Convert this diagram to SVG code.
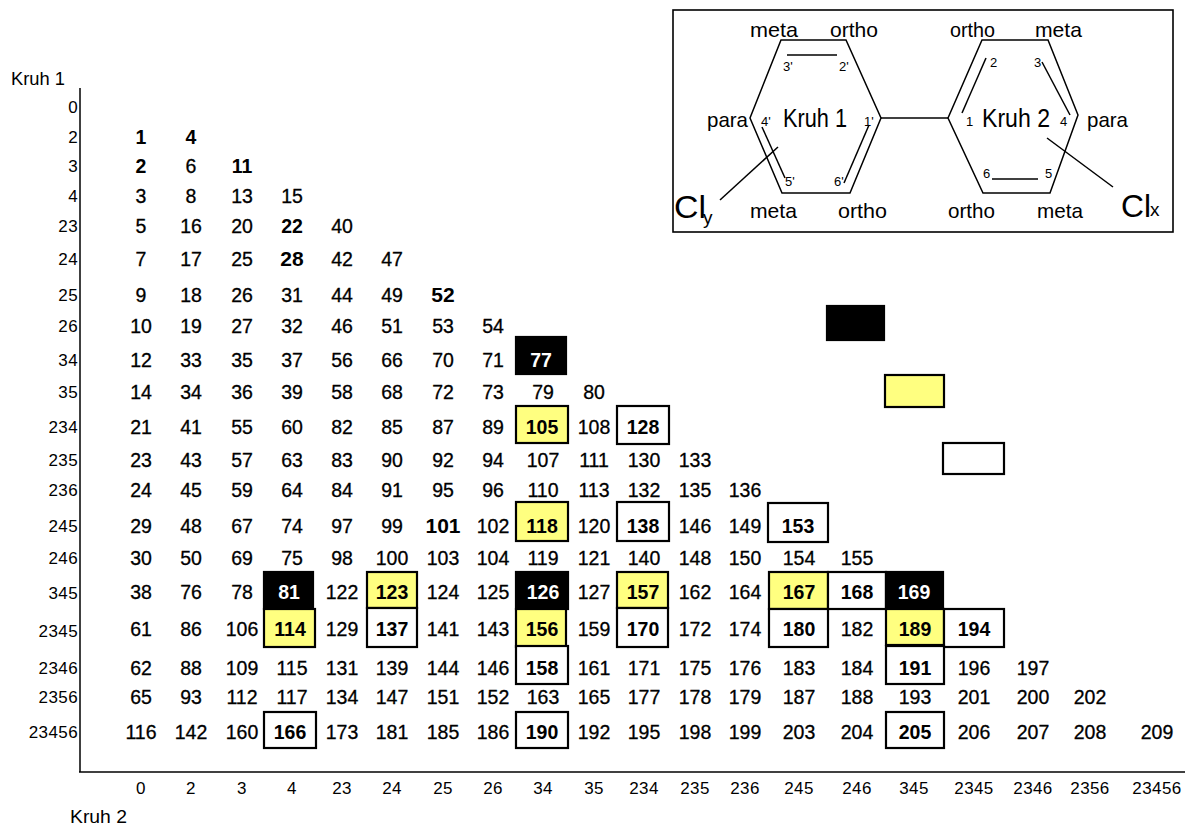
<svg xmlns="http://www.w3.org/2000/svg" width="1185" height="825" viewBox="0 0 1185 825">
<style>
text{font-family:"Liberation Sans",Arial,sans-serif;fill:#000}
.d{font-size:19.5px;text-anchor:middle;stroke:#000;stroke-width:0.3}
.b{font-weight:bold;stroke-width:0}
.w{font-weight:bold;fill:#fff;stroke:none}
.ax{font-size:17px;letter-spacing:0.4px;fill:#222}
.rl{text-anchor:end}
.cl{text-anchor:middle}
.bx{stroke:#000;stroke-width:2.2}
.blk{fill:#000}
.yel{fill:#ffff80}
.wht{fill:#fff}
.ln{stroke:#000;stroke-width:1.5;fill:none}
.lbl{font-size:21px}
.sm{font-size:13px}
</style>
<rect width="1185" height="825" fill="#fff"/>

<g id="axes">
<line class="ln" x1="80" y1="88" x2="80" y2="772" stroke-width="2"/>
<line class="ln" x1="79" y1="772" x2="1185" y2="772" stroke-width="2"/>
<text x="11" y="85" font-size="18" textLength="54" lengthAdjust="spacingAndGlyphs">Kruh 1</text>
<text x="70" y="823" font-size="18" textLength="57" lengthAdjust="spacingAndGlyphs">Kruh 2</text>
</g>

<g id="row-labels" class="ax rl">
<text x="78" y="113">0</text>
<text x="78" y="143">2</text>
<text x="78" y="172">3</text>
<text x="78" y="202">4</text>
<text x="78" y="232">23</text>
<text x="78" y="265">24</text>
<text x="78" y="301">25</text>
<text x="78" y="332">26</text>
<text x="78" y="366">34</text>
<text x="78" y="398">35</text>
<text x="78" y="433">234</text>
<text x="78" y="466">235</text>
<text x="78" y="496">236</text>
<text x="78" y="532">245</text>
<text x="78" y="564">246</text>
<text x="78" y="599">345</text>
<text x="78" y="637">2345</text>
<text x="78" y="674">2346</text>
<text x="78" y="703">2356</text>
<text x="78" y="738">23456</text>
</g>

<g id="col-labels" class="ax cl">
<text x="141" y="794">0</text>
<text x="191" y="794">2</text>
<text x="242" y="794">3</text>
<text x="292" y="794">4</text>
<text x="342" y="794">23</text>
<text x="392" y="794">24</text>
<text x="443" y="794">25</text>
<text x="493" y="794">26</text>
<text x="543" y="794">34</text>
<text x="594" y="794">35</text>
<text x="644" y="794">234</text>
<text x="695" y="794">235</text>
<text x="745" y="794">236</text>
<text x="799" y="794">245</text>
<text x="857" y="794">246</text>
<text x="914" y="794">345</text>
<text x="974" y="794">2345</text>
<text x="1033" y="794">2346</text>
<text x="1090" y="794">2356</text>
<text x="1157" y="794">23456</text>
</g>

<g id="cell-boxes">
<rect class="bx blk" x="516" y="337" width="50" height="37"/>
<rect class="bx yel" x="516" y="406" width="52" height="37"/>
<rect class="bx wht" x="617" y="406" width="52" height="38"/>
<rect class="bx yel" x="516" y="502" width="52" height="39"/>
<rect class="bx wht" x="617" y="502" width="52" height="39"/>
<rect class="bx wht" x="768" y="503" width="60" height="39"/>
<rect class="bx blk" x="264" y="572" width="49" height="37"/>
<rect class="bx yel" x="367" y="572" width="50" height="36"/>
<rect class="bx blk" x="516" y="572" width="52" height="37"/>
<rect class="bx yel" x="617" y="572" width="51" height="36"/>
<rect class="bx yel" x="769" y="572" width="59" height="37"/>
<rect class="bx wht" x="828" y="572" width="58" height="37"/>
<rect class="bx blk" x="886" y="572" width="57" height="37"/>
<rect class="bx yel" x="264" y="609" width="51" height="38"/>
<rect class="bx wht" x="367" y="608" width="50" height="39"/>
<rect class="bx yel" x="516" y="609" width="50" height="38"/>
<rect class="bx wht" x="617" y="608" width="51" height="39"/>
<rect class="bx wht" x="769" y="609" width="59" height="38"/>
<rect class="bx yel" x="886" y="609" width="58" height="36"/>
<rect class="bx wht" x="944" y="609" width="60" height="38"/>
<rect class="bx wht" x="516" y="646" width="52" height="38"/>
<rect class="bx wht" x="886" y="646" width="58" height="38"/>
<rect class="bx wht" x="264" y="712" width="52" height="36"/>
<rect class="bx wht" x="516" y="712" width="52" height="36"/>
<rect class="bx wht" x="886" y="712" width="58" height="36"/>
</g>

<g id="legend">
<rect class="bx blk" x="827" y="306" width="57" height="34"/>
<rect class="bx yel" x="885" y="375" width="59" height="32"/>
<rect class="bx wht" x="943" y="443" width="61" height="31"/>
</g>

<g id="cells" class="d">
<text y="144"><tspan x="141" class="b">1</tspan><tspan x="191" class="b">4</tspan></text>
<text y="173"><tspan x="141" class="b">2</tspan><tspan x="191">6</tspan><tspan x="242" class="b">11</tspan></text>
<text y="203"><tspan x="141">3</tspan><tspan x="191">8</tspan><tspan x="242">13</tspan><tspan x="292">15</tspan></text>
<text y="233"><tspan x="141">5</tspan><tspan x="191">16</tspan><tspan x="242">20</tspan><tspan x="292" class="b">22</tspan><tspan x="342">40</tspan></text>
<text y="266"><tspan x="141">7</tspan><tspan x="191">17</tspan><tspan x="242">25</tspan><tspan x="292" class="b" font-size="21">28</tspan><tspan x="342">42</tspan><tspan x="392">47</tspan></text>
<text y="302"><tspan x="141">9</tspan><tspan x="191">18</tspan><tspan x="242">26</tspan><tspan x="292">31</tspan><tspan x="342">44</tspan><tspan x="392">49</tspan><tspan x="443" class="b" font-size="21">52</tspan></text>
<text y="333"><tspan x="141">10</tspan><tspan x="191">19</tspan><tspan x="242">27</tspan><tspan x="292">32</tspan><tspan x="342">46</tspan><tspan x="392">51</tspan><tspan x="443">53</tspan><tspan x="493">54</tspan></text>
<text y="367"><tspan x="141">12</tspan><tspan x="191">33</tspan><tspan x="242">35</tspan><tspan x="292">37</tspan><tspan x="342">56</tspan><tspan x="392">66</tspan><tspan x="443">70</tspan><tspan x="493">71</tspan><tspan x="541" class="w">77</tspan></text>
<text y="399"><tspan x="141">14</tspan><tspan x="191">34</tspan><tspan x="242">36</tspan><tspan x="292">39</tspan><tspan x="342">58</tspan><tspan x="392">68</tspan><tspan x="443">72</tspan><tspan x="493">73</tspan><tspan x="543">79</tspan><tspan x="594">80</tspan></text>
<text y="434"><tspan x="141">21</tspan><tspan x="191">41</tspan><tspan x="242">55</tspan><tspan x="292">60</tspan><tspan x="342">82</tspan><tspan x="392">85</tspan><tspan x="443">87</tspan><tspan x="493">89</tspan><tspan x="542" class="b">105</tspan><tspan x="594">108</tspan><tspan x="643" class="b">128</tspan></text>
<text y="467"><tspan x="141">23</tspan><tspan x="191">43</tspan><tspan x="242">57</tspan><tspan x="292">63</tspan><tspan x="342">83</tspan><tspan x="392">90</tspan><tspan x="443">92</tspan><tspan x="493">94</tspan><tspan x="543">107</tspan><tspan x="594">111</tspan><tspan x="644">130</tspan><tspan x="695">133</tspan></text>
<text y="497"><tspan x="141">24</tspan><tspan x="191">45</tspan><tspan x="242">59</tspan><tspan x="292">64</tspan><tspan x="342">84</tspan><tspan x="392">91</tspan><tspan x="443">95</tspan><tspan x="493">96</tspan><tspan x="543">110</tspan><tspan x="594">113</tspan><tspan x="644">132</tspan><tspan x="695">135</tspan><tspan x="745">136</tspan></text>
<text y="533"><tspan x="141">29</tspan><tspan x="191">48</tspan><tspan x="242">67</tspan><tspan x="292">74</tspan><tspan x="342">97</tspan><tspan x="392">99</tspan><tspan x="443" class="b" font-size="21">101</tspan><tspan x="493">102</tspan><tspan x="542" class="b">118</tspan><tspan x="594">120</tspan><tspan x="643" class="b">138</tspan><tspan x="695">146</tspan><tspan x="745">149</tspan><tspan x="798" class="b">153</tspan></text>
<text y="565"><tspan x="141">30</tspan><tspan x="191">50</tspan><tspan x="242">69</tspan><tspan x="292">75</tspan><tspan x="342">98</tspan><tspan x="392">100</tspan><tspan x="443">103</tspan><tspan x="493">104</tspan><tspan x="543">119</tspan><tspan x="594">121</tspan><tspan x="644">140</tspan><tspan x="695">148</tspan><tspan x="745">150</tspan><tspan x="799">154</tspan><tspan x="857">155</tspan></text>
<text y="599"><tspan x="141">38</tspan><tspan x="191">76</tspan><tspan x="242">78</tspan><tspan x="289" class="w">81</tspan><tspan x="342">122</tspan><tspan x="392" class="b">123</tspan><tspan x="443">124</tspan><tspan x="493">125</tspan><tspan x="543" class="w">126</tspan><tspan x="594">127</tspan><tspan x="643" class="b">157</tspan><tspan x="695">162</tspan><tspan x="745">164</tspan><tspan x="799" class="b">167</tspan><tspan x="857" class="b">168</tspan><tspan x="914" class="w">169</tspan></text>
<text y="636"><tspan x="141">61</tspan><tspan x="191">86</tspan><tspan x="242">106</tspan><tspan x="290" class="b">114</tspan><tspan x="342">129</tspan><tspan x="392" class="b">137</tspan><tspan x="443">141</tspan><tspan x="493">143</tspan><tspan x="542" class="b">156</tspan><tspan x="594">159</tspan><tspan x="643" class="b">170</tspan><tspan x="695">172</tspan><tspan x="745">174</tspan><tspan x="799" class="b">180</tspan><tspan x="857">182</tspan><tspan x="915" class="b">189</tspan><tspan x="974" class="b">194</tspan></text>
<text y="675"><tspan x="141">62</tspan><tspan x="191">88</tspan><tspan x="242">109</tspan><tspan x="292">115</tspan><tspan x="342">131</tspan><tspan x="392">139</tspan><tspan x="443">144</tspan><tspan x="493">146</tspan><tspan x="542" class="b">158</tspan><tspan x="594">161</tspan><tspan x="644">171</tspan><tspan x="695">175</tspan><tspan x="745">176</tspan><tspan x="799">183</tspan><tspan x="857">184</tspan><tspan x="915" class="b">191</tspan><tspan x="974">196</tspan><tspan x="1033">197</tspan></text>
<text y="704"><tspan x="141">65</tspan><tspan x="191">93</tspan><tspan x="242">112</tspan><tspan x="292">117</tspan><tspan x="342">134</tspan><tspan x="392">147</tspan><tspan x="443">151</tspan><tspan x="493">152</tspan><tspan x="543">163</tspan><tspan x="594">165</tspan><tspan x="644">177</tspan><tspan x="695">178</tspan><tspan x="745">179</tspan><tspan x="799">187</tspan><tspan x="857">188</tspan><tspan x="915">193</tspan><tspan x="974">201</tspan><tspan x="1033">200</tspan><tspan x="1090">202</tspan></text>
<text y="739"><tspan x="141">116</tspan><tspan x="191">142</tspan><tspan x="242">160</tspan><tspan x="290" class="b">166</tspan><tspan x="342">173</tspan><tspan x="392">181</tspan><tspan x="443">185</tspan><tspan x="493">186</tspan><tspan x="542" class="b">190</tspan><tspan x="594">192</tspan><tspan x="644">195</tspan><tspan x="695">198</tspan><tspan x="745">199</tspan><tspan x="799">203</tspan><tspan x="857">204</tspan><tspan x="915" class="b">205</tspan><tspan x="974">206</tspan><tspan x="1033">207</tspan><tspan x="1090">208</tspan><tspan x="1157">209</tspan></text>
</g>

<g id="inset">
<rect x="673" y="10" width="500" height="222" fill="#fff" stroke="#000" stroke-width="1.6"/>
<g id="ring1">
<polygon class="ln" points="781,40 846,40 881,118 850,193 782,193 750,118"/>
<line class="ln" x1="787" y1="55" x2="837" y2="55"/>
<line class="ln" x1="869" y1="125" x2="844" y2="183"/>
<line class="ln" x1="762" y1="127" x2="785" y2="178"/>
<line class="ln" x1="720" y1="200" x2="778" y2="147"/>
</g>
<line id="bond" class="ln" x1="881" y1="118" x2="948" y2="118"/>
<g id="ring2">
<polygon class="ln" points="948,118 982,40 1048,40 1078,115 1050,193 983,193"/>
<line class="ln" x1="962" y1="113" x2="986" y2="58"/>
<line class="ln" x1="1042" y1="62" x2="1070" y2="115"/>
<line class="ln" x1="992" y1="179" x2="1038" y2="179"/>
<line class="ln" x1="1047" y1="138" x2="1113" y2="187"/>
</g>
<g id="inset-labels" class="lbl">
<text x="750" y="37" textLength="48" lengthAdjust="spacingAndGlyphs">meta</text>
<text x="830" y="37" textLength="48" lengthAdjust="spacingAndGlyphs">ortho</text>
<text x="950" y="37" textLength="45" lengthAdjust="spacingAndGlyphs">ortho</text>
<text x="1035" y="37" textLength="47" lengthAdjust="spacingAndGlyphs">meta</text>
<text x="750" y="218" textLength="47" lengthAdjust="spacingAndGlyphs">meta</text>
<text x="838" y="218" textLength="49" lengthAdjust="spacingAndGlyphs">ortho</text>
<text x="948" y="218" textLength="47" lengthAdjust="spacingAndGlyphs">ortho</text>
<text x="1037" y="218" textLength="46" lengthAdjust="spacingAndGlyphs">meta</text>
<text x="707" y="127" textLength="41" lengthAdjust="spacingAndGlyphs">para</text>
<text x="1087" y="127" textLength="41" lengthAdjust="spacingAndGlyphs">para</text>
<text x="783" y="127" font-size="25" textLength="64" lengthAdjust="spacingAndGlyphs">Kruh 1</text>
<text x="982" y="127" font-size="25" textLength="68" lengthAdjust="spacingAndGlyphs">Kruh 2</text>
</g>
<g id="positions" class="sm">
<text x="783" y="71">3'</text>
<text x="839" y="71">2'</text>
<text x="761" y="126">4'</text>
<text x="864" y="126">1'</text>
<text x="785" y="186">5'</text>
<text x="834" y="186">6'</text>
<text x="990" y="67">2</text>
<text x="1034" y="67">3</text>
<text x="966" y="126">1</text>
<text x="1060" y="126">4</text>
<text x="983" y="178">6</text>
<text x="1045" y="178">5</text>
</g>
<text x="674" y="218" font-size="32" textLength="32" lengthAdjust="spacingAndGlyphs">Cl</text>
<text x="703" y="224" font-size="19">y</text>
<text x="1121" y="217" font-size="32" textLength="30" lengthAdjust="spacingAndGlyphs">Cl</text>
<text x="1150" y="216" font-size="19">x</text>
</g>
</svg>
